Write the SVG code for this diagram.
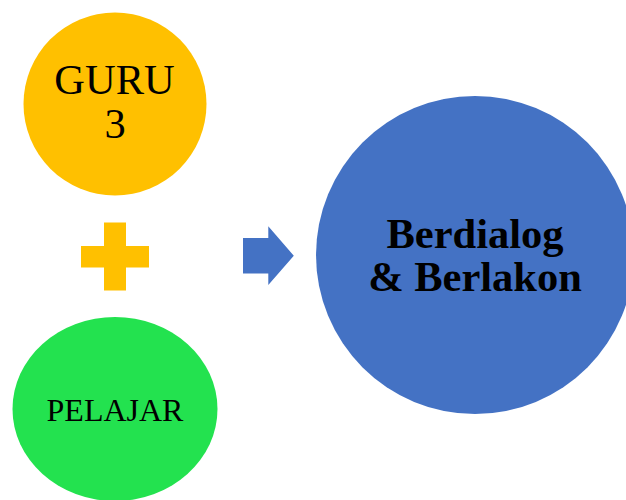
<svg xmlns="http://www.w3.org/2000/svg" width="626" height="500" viewBox="0 0 626 500">
<style>
text{font-family:"Liberation Serif","Times New Roman",serif;fill:#000;text-anchor:middle}
.big{font-size:42.500px}
.bold{font-size:42.500px;font-weight:bold}
</style>
<rect width="626" height="500" fill="#fff"/>
<g id="guru"><circle cx="115" cy="104" r="91.500" fill="#ffc000"/>
<text class="big" x="114.500" y="93.500">GURU</text><text class="big" x="115" y="137.500">3</text></g>
<g id="plus"><polygon points="104,222.500 126,222.500 126,246 149,246 149,267.500 126,267.500 126,290.500 104,290.500 104,267.500 81,267.500 81,246 104,246" fill="#ffc000"/></g>
<g id="pelajar"><ellipse cx="115" cy="409" rx="102.500" ry="92" fill="#23e24f"/>
<text x="115" y="420.500" font-size="32">PELAJAR</text></g>
<g id="connectors"><polygon points="243,238 268.300,238 268.300,226.300 293.800,255.700 268.300,285 268.300,273.500 243,273.500" fill="#4472c4"/></g>
<g id="berdialog"><circle cx="475" cy="255" r="159" fill="#4472c4"/>
<text class="bold" x="475" y="247.500">Berdialog</text><text class="bold" x="475" y="291">&amp; Berlakon</text></g>
</svg>
